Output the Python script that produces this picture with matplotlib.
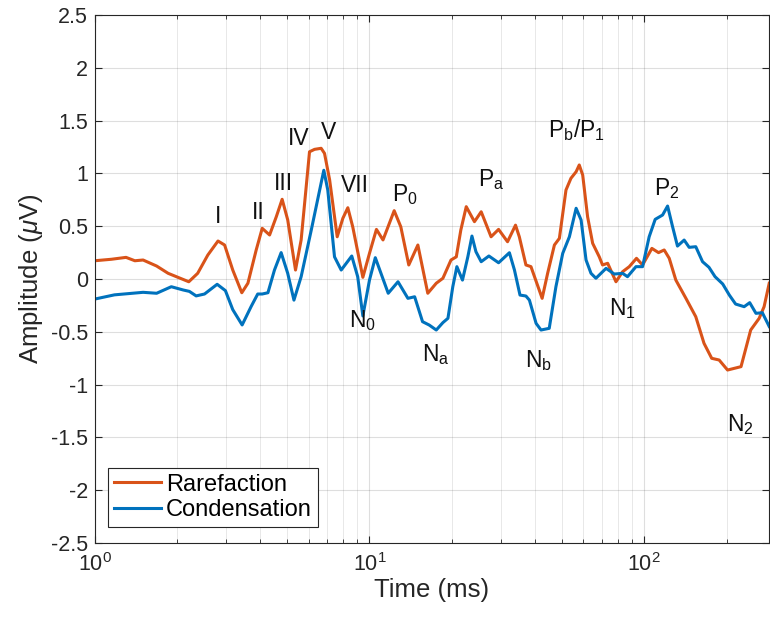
import matplotlib
matplotlib.use("Agg")
import matplotlib.pyplot as plt
from matplotlib.ticker import FixedLocator, FuncFormatter, LogLocator

plt.rcParams['font.family'] = ['Liberation Sans', 'DejaVu Sans']
plt.rcParams['mathtext.fontset'] = 'custom'
plt.rcParams['mathtext.rm'] = 'Liberation Sans'
plt.rcParams['mathtext.it'] = 'Liberation Sans:italic'
plt.rcParams['mathtext.default'] = 'rm'

# rarefaction trace (time in ms, amplitude in uV)
rare_t = [1.0, 1.15, 1.30, 1.40, 1.50, 1.68, 1.85, 2.20, 2.37, 2.58, 2.81, 2.97,
          3.18, 3.43, 3.61, 3.87, 4.07, 4.33, 4.58, 4.81, 5.04, 5.38, 5.64, 6.05,
          6.31, 6.67, 6.86, 7.16, 7.63, 8.00, 8.34, 8.69, 9.46, 10.0, 10.6, 11.2,
          12.3, 13.0, 13.9, 15.0, 16.3, 17.5, 18.5, 19.8, 20.7, 21.5, 22.5, 24.1,
          25.5, 27.7, 29.5, 31.8, 34.0, 35.1, 37.1, 38.7, 42.5, 44.5, 47.1, 49.1,
          51.9, 54.1, 56.5, 58.0, 59.7, 62.2, 64.9, 68.6, 70.5, 73.6, 78.9, 83.4,
          88.2, 93.7, 98.6, 106.6, 112.7, 118.2, 123.3, 130.3, 141.8, 154, 165, 176,
          187.3, 201, 225, 244, 262, 273, 285]
rare_v = [0.173, 0.187, 0.205, 0.173, 0.18, 0.123, 0.054, -0.026, 0.054, 0.227, 0.36, 0.322,
          0.085, -0.13, -0.04, 0.275, 0.48, 0.417, 0.59, 0.755, 0.56, 0.085, 0.37, 1.205,
          1.228, 1.238, 1.19, 0.94, 0.40, 0.575, 0.675, 0.495, 0.016, 0.243, 0.47, 0.37,
          0.647, 0.495, 0.133, 0.322, -0.135, -0.04, 0.007, 0.18, 0.21, 0.464, 0.685, 0.543,
          0.637, 0.40, 0.47, 0.353, 0.51, 0.40, 0.133, 0.117, -0.183, 0.054, 0.322, 0.385,
          0.843, 0.954, 1.016, 1.08, 0.985, 0.59, 0.338, 0.21, 0.133, 0.149, -0.026, 0.069,
          0.117, 0.196, 0.133, 0.29, 0.25, 0.275, 0.196, -0.01, -0.183, -0.357, -0.609, -0.751,
          -0.767, -0.862, -0.83, -0.483, -0.372, -0.262, -0.04]

# condensation trace
cond_t = [1.0, 1.18, 1.50, 1.68, 1.90, 2.10, 2.21, 2.34, 2.51, 2.79, 2.99, 3.18,
          3.44, 3.71, 3.92, 4.07, 4.27, 4.51, 4.77, 5.04, 5.31, 5.64, 6.14, 6.82,
          7.05, 7.46, 7.89, 8.62, 9.06, 9.46, 10.0, 10.5, 11.7, 12.7, 13.8, 14.6,
          15.6, 16.5, 17.5, 18.5, 19.3, 20.1, 20.8, 21.8, 22.8, 23.6, 24.4, 25.5,
          27.2, 29.5, 32.3, 33.7, 35.3, 37.1, 38.2, 40.4, 42.1, 45.1, 47.7, 50.5,
          53.4, 56.5, 58.9, 61.4, 64.0, 66.7, 72.6, 77.8, 83.4, 86.9, 93.3, 98.6,
          104.2, 109.6, 116.6, 121.6, 126.8, 132.1, 139.7, 145.7, 154, 163, 172, 181,
          193, 204, 215, 231, 242, 255, 269, 285]
cond_v = [-0.19, -0.15, -0.126, -0.135, -0.073, -0.104, -0.117, -0.16, -0.142, -0.05, -0.11, -0.29,
          -0.435, -0.26, -0.142, -0.142, -0.13, 0.085, 0.25, 0.054, -0.2, 0.022, 0.464, 1.03,
          0.843, 0.21, 0.085, 0.218, 0.022, -0.35, -0.01, 0.202, -0.135, -0.026, -0.183, -0.168,
          -0.404, -0.436, -0.483, -0.413, -0.372, -0.073, 0.117, -0.01, 0.21, 0.407, 0.259, 0.164,
          0.218, 0.154, 0.249, 0.085, -0.152, -0.161, -0.2, -0.42, -0.483, -0.467, -0.073, 0.243,
          0.40, 0.67, 0.559, 0.18, 0.054, 0.007, 0.101, 0.047, 0.054, 0.022, 0.117, 0.117,
          0.40, 0.565, 0.606, 0.691, 0.495, 0.312, 0.369, 0.30, 0.306, 0.164, 0.111, 0.022,
          -0.047, -0.152, -0.237, -0.262, -0.224, -0.325, -0.319, -0.45]

# peak labels
peak_names = ['I', 'II', 'III', 'IV', 'V', 'VII', r'$\mathrm{P_0}$', r'$\mathrm{N_0}$',
              r'$\mathrm{P_a}$', r'$\mathrm{N_a}$', r'$\mathrm{P_b/P_1}$', r'$\mathrm{N_b}$',
              r'$\mathrm{N_1}$', r'$\mathrm{P_2}$', r'$\mathrm{N_2}$']
peak_t = [2.82, 3.95, 4.87, 5.52, 7.10, 8.82, 13.4, 9.44, 27.8, 17.5, 56.6, 41.2, 83.2, 121, 223]
peak_v = [0.59, 0.63, 0.90, 1.335, 1.39, 0.89, 0.80, -0.39, 0.94, -0.72, 1.41, -0.77, -0.275, 0.86, -1.38]

yticks = [-2.5, -2, -1.5, -1, -0.5, 0, 0.5, 1, 1.5, 2, 2.5]

fig = plt.figure(figsize=(7.7, 6.27), dpi=100)
ax = fig.add_axes([0.123, 0.134, 0.876, 0.842])

ax.plot(rare_t, rare_v, color='#D95319', lw=2.2, label='Rarefaction',
        solid_joinstyle='round')
ax.plot(cond_t, cond_v, color='#0072BD', lw=2.2, label='Condensation',
        solid_joinstyle='round')

for name, t, v in zip(peak_names, peak_t, peak_v):
    ax.text(t, v, name, fontsize=16.5, ha='center', va='center', color='#111111')

ax.set_xscale('log')
ax.set_xlim(1, 285)
ax.set_ylim(-2.5, 2.5)
ax.yaxis.set_major_locator(FixedLocator(yticks))
ax.yaxis.set_major_formatter(FuncFormatter(lambda v, p: ('%g' % v)))
ax.xaxis.set_major_locator(LogLocator(base=10))
ax.xaxis.set_minor_locator(LogLocator(base=10, subs=range(2, 10)))

ax.grid(True, which='major', color='#262626', alpha=0.15, lw=0.8)
ax.grid(True, which='minor', axis='x', color='#262626', alpha=0.12, lw=0.6)
ax.tick_params(which='both', direction='in', top=True, right=True, labelsize=15.5,
               colors='#262626')
ax.tick_params(which='major', length=5)
ax.tick_params(which='minor', length=3)
ax.tick_params(axis='x', which='major', pad=7)
ax.tick_params(axis='y', which='major', pad=5)
for s in ax.spines.values():
    s.set_color('#262626')
    s.set_linewidth(0.8)

ax.set_xlabel('Time (ms)', fontsize=18.5, color='#262626', labelpad=2)
ax.set_ylabel(r'Amplitude ($\mathit{\mu}$V)', fontsize=18.5, color='#262626', labelpad=4)

leg = ax.legend(loc='lower left', bbox_to_anchor=(0.02, 0.03), fontsize=17,
                fancybox=False, edgecolor='#262626', framealpha=1,
                handlelength=2.0, handletextpad=0.2, borderpad=0.25,
                labelspacing=0.15, borderaxespad=0)
leg.get_frame().set_linewidth(0.8)

fig.savefig('out.png', dpi=100)
